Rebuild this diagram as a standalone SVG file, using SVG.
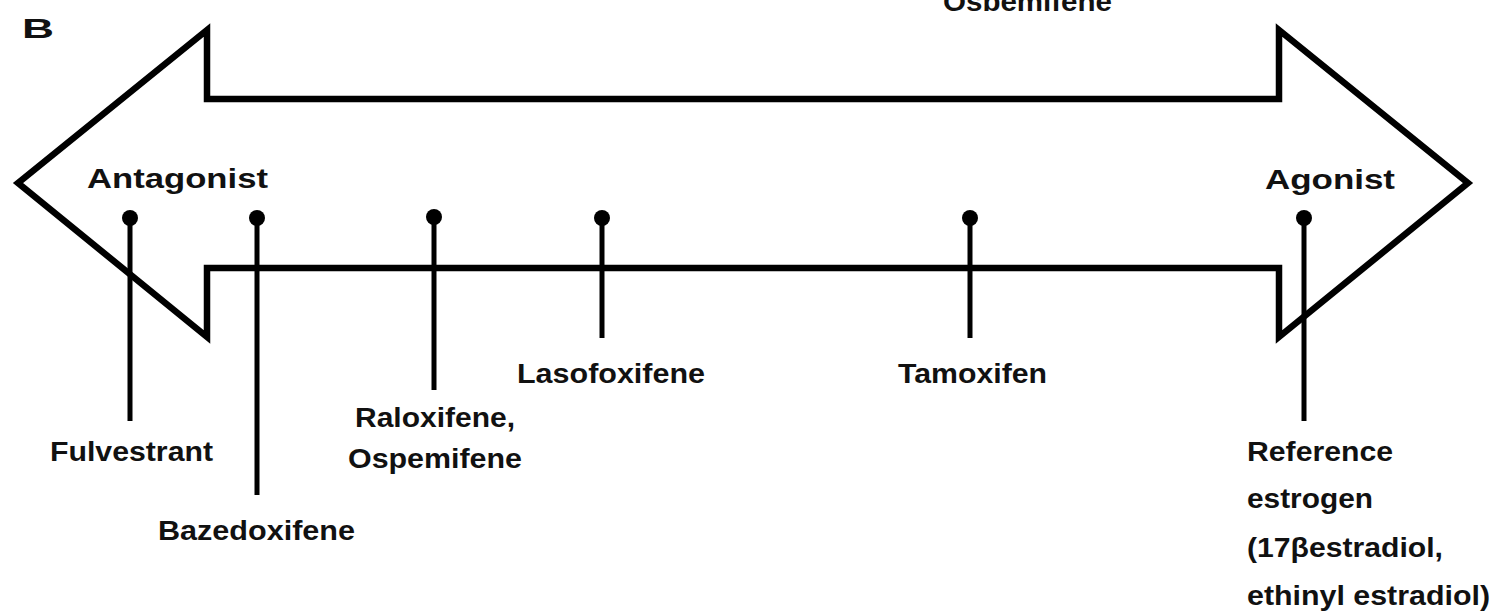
<svg xmlns="http://www.w3.org/2000/svg" width="1511" height="616" viewBox="0 0 1511 616">
<style>
text{font-family:"Liberation Sans",Arial,sans-serif;font-weight:bold;font-size:27px;fill:#111;}
.arrow{fill:none;stroke:#000;stroke-width:6.5;stroke-linejoin:miter;stroke-miterlimit:10;}
.stem{stroke:#000;stroke-width:5;}
.dot{fill:#000;}
</style>
<rect width="1511" height="616" fill="#fff"/>
<text x="22" y="38" font-size="38" textLength="32" lengthAdjust="spacingAndGlyphs">B</text>
<text x="943" y="11" textLength="169" lengthAdjust="spacingAndGlyphs">Osbemifene</text>
<g id="spectrum-arrow">
<polygon class="arrow" points="18,183 207,30 207,99 1279,99 1279,30 1468,183 1279,337 1279,268 207,268 207,337"/>
<text x="87" y="188" textLength="181" lengthAdjust="spacingAndGlyphs">Antagonist</text>
<text x="1265" y="189" textLength="130" lengthAdjust="spacingAndGlyphs">Agonist</text>
</g>
<g id="connectors">
<line class="stem" x1="130" y1="218" x2="130" y2="421"/>
<line class="stem" x1="257" y1="218" x2="257" y2="495"/>
<line class="stem" x1="434" y1="217" x2="434" y2="390"/>
<line class="stem" x1="602" y1="218" x2="602" y2="338"/>
<line class="stem" x1="970" y1="218" x2="970" y2="338"/>
<line class="stem" x1="1304" y1="218" x2="1304" y2="421"/>
</g>
<g id="fulvestrant">
<circle class="dot" cx="130" cy="218" r="8"/>
<text x="50" y="461" textLength="163" lengthAdjust="spacingAndGlyphs">Fulvestrant</text>
</g>
<g id="bazedoxifene">
<circle class="dot" cx="257" cy="218" r="8"/>
<text x="158" y="540" textLength="197" lengthAdjust="spacingAndGlyphs">Bazedoxifene</text>
</g>
<g id="raloxifene">
<circle class="dot" cx="434" cy="217" r="8"/>
<text x="355" y="427" textLength="160" lengthAdjust="spacingAndGlyphs">Raloxifene,</text>
<text x="348" y="468" textLength="174" lengthAdjust="spacingAndGlyphs">Ospemifene</text>
</g>
<g id="lasofoxifene">
<circle class="dot" cx="602" cy="218" r="8"/>
<text x="517" y="383" textLength="188" lengthAdjust="spacingAndGlyphs">Lasofoxifene</text>
</g>
<g id="tamoxifen">
<circle class="dot" cx="970" cy="218" r="8"/>
<text x="898" y="383" textLength="149" lengthAdjust="spacingAndGlyphs">Tamoxifen</text>
</g>
<g id="reference-estrogen">
<circle class="dot" cx="1304" cy="218" r="8"/>
<text x="1247" y="461" textLength="146" lengthAdjust="spacingAndGlyphs">Reference</text>
<text x="1247" y="508" textLength="126" lengthAdjust="spacingAndGlyphs">estrogen</text>
<text x="1247" y="557" textLength="196" lengthAdjust="spacingAndGlyphs">(17βestradiol,</text>
<text x="1247" y="605" textLength="243" lengthAdjust="spacingAndGlyphs">ethinyl estradiol)</text>
</g>
</svg>
